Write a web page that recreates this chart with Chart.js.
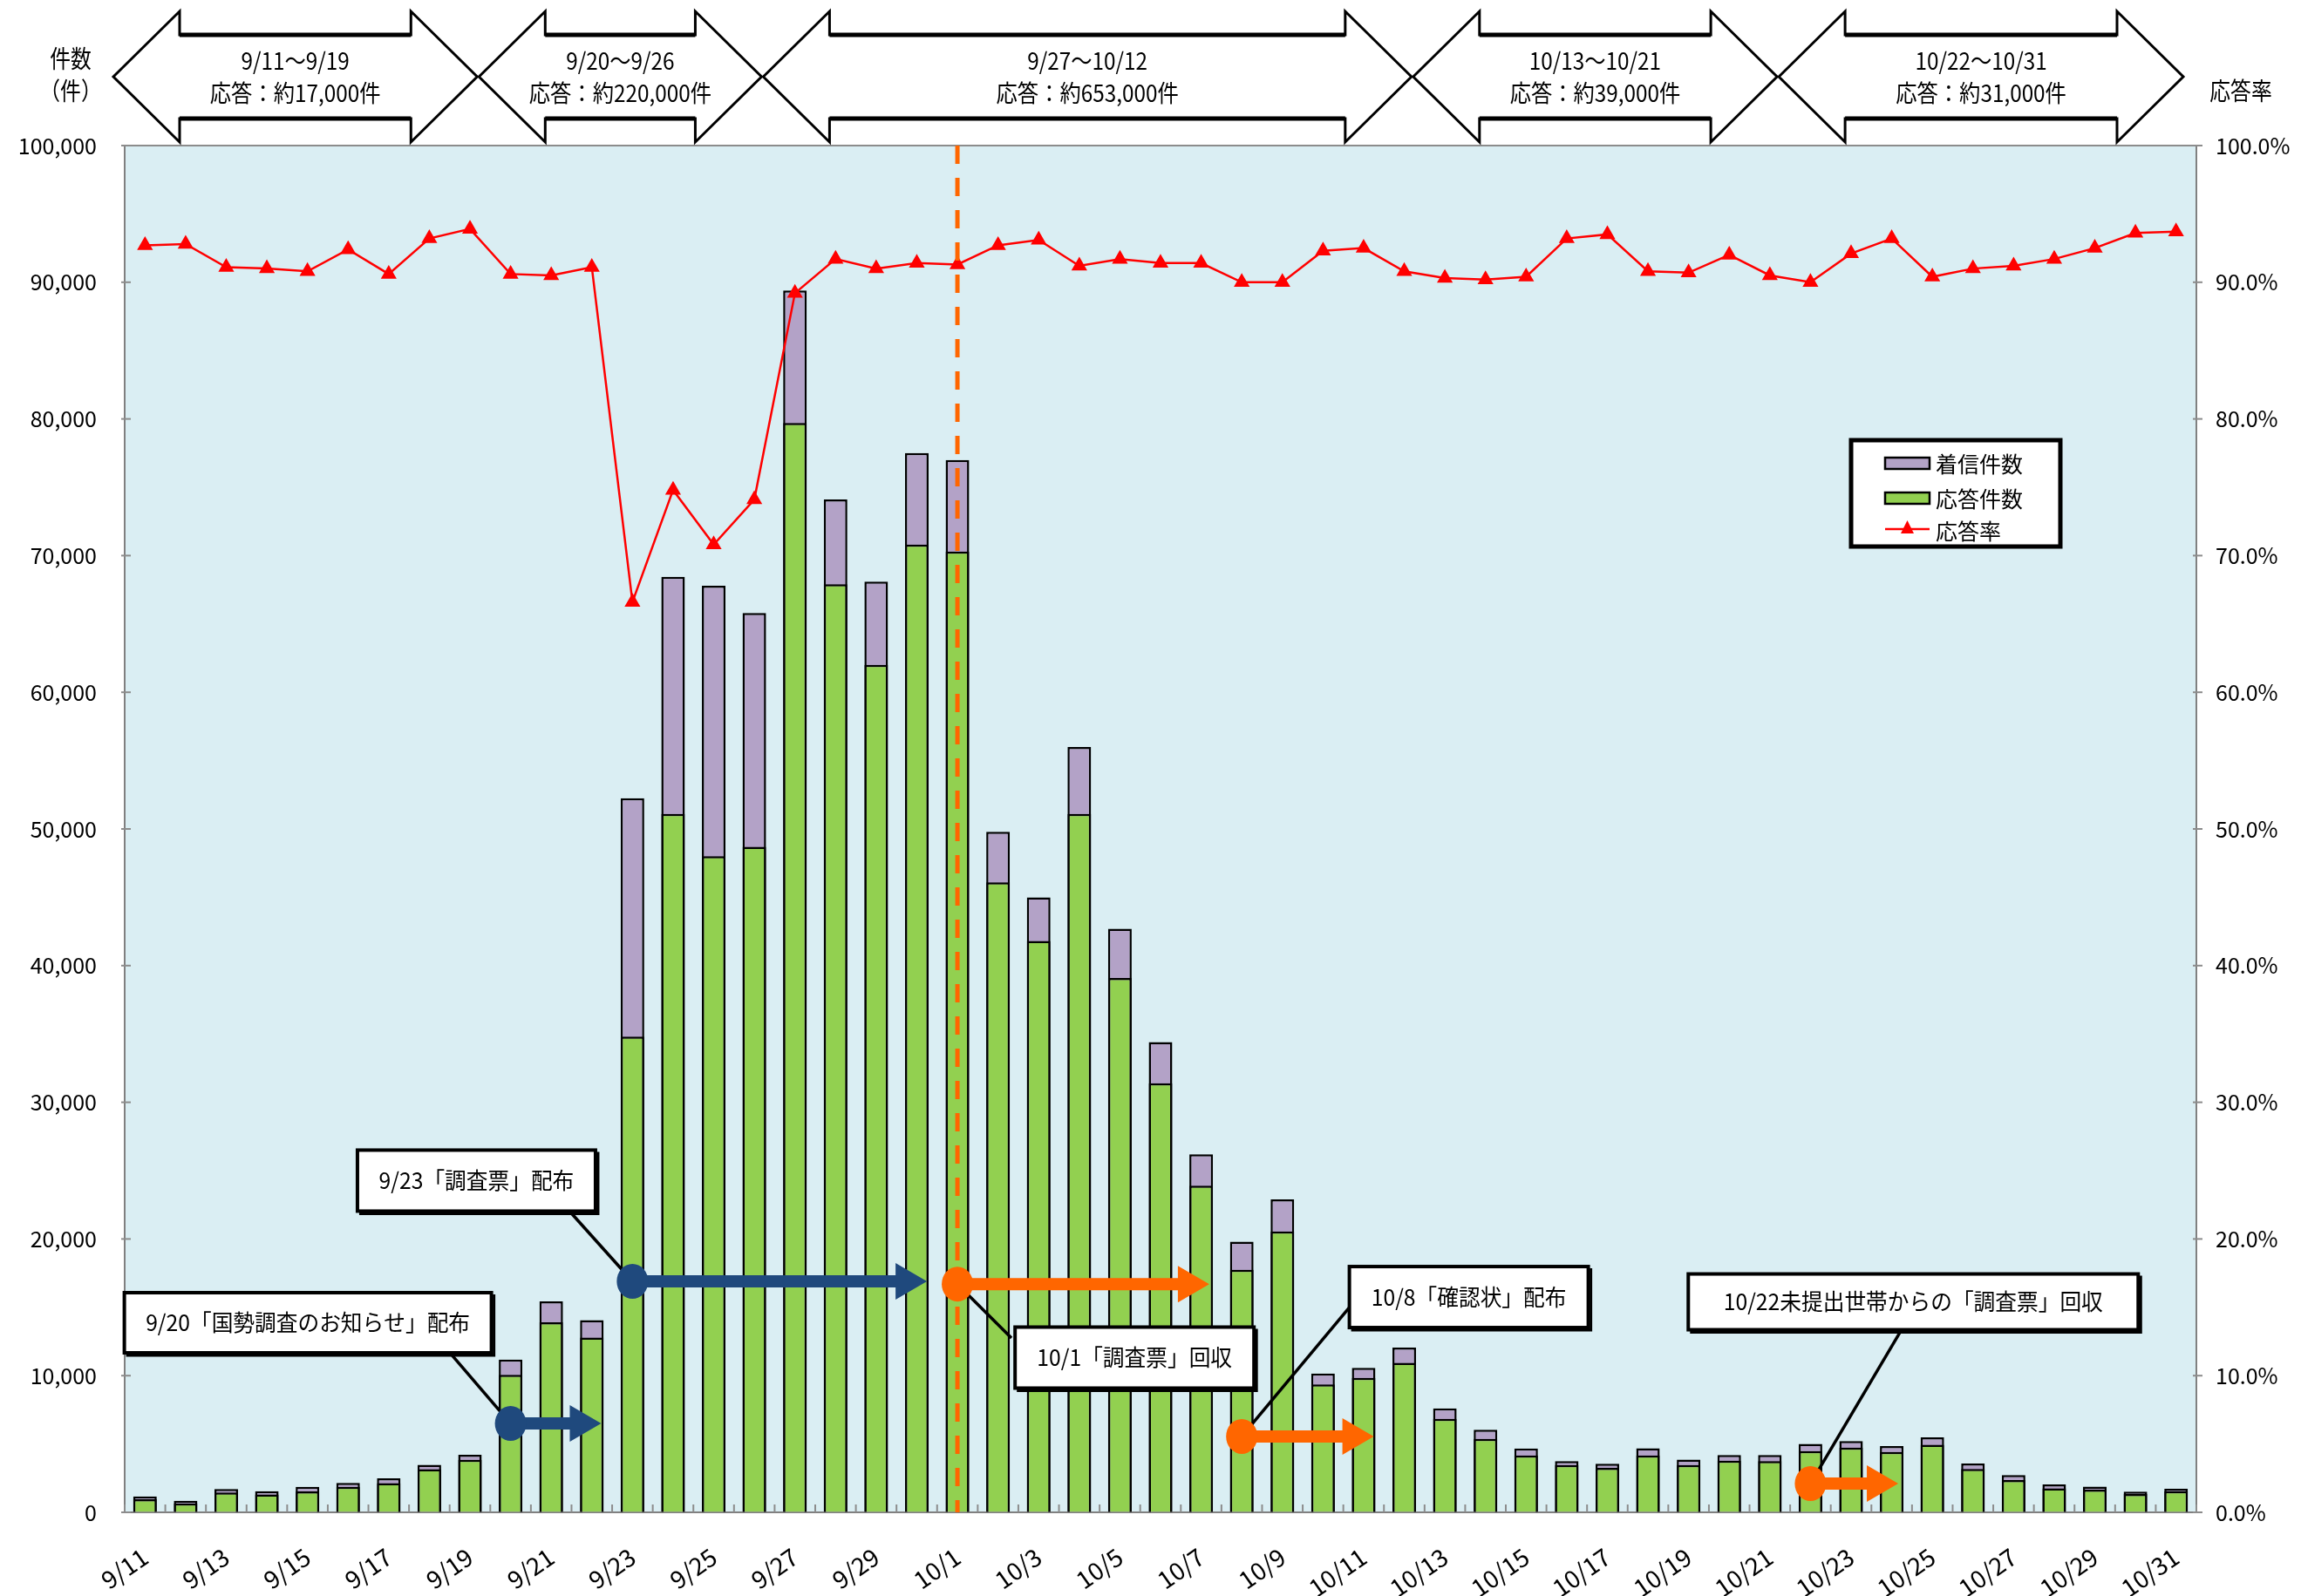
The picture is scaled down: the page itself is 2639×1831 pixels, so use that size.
<!DOCTYPE html>
<html><head><meta charset="utf-8">
<script src="https://cdn.jsdelivr.net/npm/chart.js@4.4.1/dist/chart.umd.min.js"></script>
<style>html,body{margin:0;padding:0;background:#fff;}canvas{display:block;}</style>
</head><body>
<div style="width:2639px;height:1831px;"><canvas id="c" width="2639" height="1831"></canvas></div>
<script>
// ---------- data ----------
const categories = [
 '9/11','9/12','9/13','9/14','9/15','9/16','9/17','9/18','9/19','9/20',
 '9/21','9/22','9/23','9/24','9/25','9/26','9/27','9/28','9/29','9/30',
 '10/1','10/2','10/3','10/4','10/5','10/6','10/7','10/8','10/9','10/10',
 '10/11','10/12','10/13','10/14','10/15','10/16','10/17','10/18','10/19','10/20',
 '10/21','10/22','10/23','10/24','10/25','10/26','10/27','10/28','10/29','10/30','10/31'];
// 着信件数 (incoming calls)
const incomingCalls = [
 1170,850,1700,1550,1870,2150,2490,3470,4210,11170,
 15430,14060,52250,68450,67800,65800,89400,74100,68100,77500,
 77000,49800,45000,56000,42700,34400,26200,19800,22900,10150,
 10570,12060,7600,6050,4670,3750,3550,4690,3860,4200,
 4200,5010,5220,4840,5480,3570,2720,2040,1880,1510,1720];
// 応答件数 (answered calls)
const answeredCalls = [
 960,660,1450,1300,1530,1870,2130,3150,3850,10060,
 13900,12790,34800,51100,48000,48700,79700,67900,62000,70800,
 70300,46100,41800,51100,39100,31400,23900,17750,20550,9360,
 9830,10930,6840,5370,4160,3460,3250,4160,3460,3780,
 3740,4480,4730,4420,4950,3180,2360,1760,1660,1340,1550];
// 応答率 (%)
const responseRate = [
 92.7,92.8,91.1,91.0,90.8,92.4,90.6,93.2,93.9,90.6,
 90.5,91.1,66.6,74.8,70.8,74.1,89.2,91.7,91.0,91.4,
 91.3,92.7,93.1,91.2,91.7,91.4,91.4,90.0,90.0,92.3,
 92.5,90.8,90.3,90.2,90.4,93.2,93.5,90.8,90.7,92.0,
 90.5,90.0,92.1,93.2,90.4,91.0,91.2,91.7,92.5,93.6,93.7];
// x tick labels actually shown
const shownDates = ['9/11','9/13','9/15','9/17','9/19','9/21','9/23','9/25','9/27','9/29',
 '10/1','10/3','10/5','10/7','10/9','10/11','10/13','10/15','10/17','10/19','10/21',
 '10/23','10/25','10/27','10/29','10/31'];
// period banners
const periodFrom = ['9/11','9/20','9/27','10/13','10/22'];
const periodTo   = ['9/19','9/26','10/12','10/21','10/31'];
const periodAnswers = ['応答：約17,000件','応答：約220,000件','応答：約653,000件','応答：約39,000件','応答：約31,000件'];
// event annotations
const eventTexts = ['9/20「国勢調査のお知らせ」配布','9/23「調査票」配布','10/1「調査票」回収','10/8「確認状」配布','10/22未提出世帯からの「調査票」回収'];
const eventDates = ['9/20','9/23','10/1','10/8','10/22'];
const dashedDate = '10/1';

// ---------- layout / style (not data) ----------
const FONT = '"Noto Sans CJK JP","Noto Sans",sans-serif';
const BLUE = '#1F497D', ORANGE = '#FF6600';
const callouts = [
  {box:[4.01,13870], size:[421,69], from:[7.5,11700], arrowAt:6500, tip:11.23, color:BLUE},
  {box:[8.16,24270], size:[273,70], from:[10.46,22000], arrowAt:16900, tip:19.25, color:BLUE},
  {box:[24.36,11320], size:[274,70], from:[21.33,12750], arrowAt:16700, tip:26.2, color:ORANGE},
  {box:[32.59,15750], size:[274,70], from:[29.65,14990], arrowAt:5550, tip:30.25, color:ORANGE},
  {box:[43.53,15400], size:[516,64], from:[43.31,13710], arrowAt:2100, tip:43.16, color:ORANGE}
];

function ix(chart,i){return chart.scales.x.getPixelForValue(i);}
function vy(chart,v){return chart.scales.y.getPixelForValue(v);}
function text(ctx,s,x,y,size,align,cond){
  ctx.font = size+'px '+FONT;
  ctx.textAlign = align||'center';
  ctx.textBaseline = 'middle';
  ctx.fillStyle = '#000';
  const w = ctx.measureText(s).width;
  ctx.fillText(s,x,y,w*(cond||1));
}

const annot = {
  id:'annot',
  beforeDraw(chart){
    const {ctx, chartArea:a} = chart;
    ctx.save();
    ctx.fillStyle = '#DAEEF3';
    ctx.fillRect(a.left,a.top,a.right-a.left,a.bottom-a.top);
    ctx.restore();
  },
  beforeDatasetsDraw(chart){
    const {ctx, chartArea:a} = chart;
    ctx.save();
    ctx.strokeStyle = '#8c8c8c'; ctx.lineWidth = 2;
    for(let i=0;i<=categories.length;i++){
      const x = ix(chart,i-0.5);
      ctx.beginPath(); ctx.moveTo(x,a.bottom); ctx.lineTo(x,a.bottom-9); ctx.stroke();
    }
    chart.scales.y.ticks.forEach(t=>{
      const y = vy(chart,t.value);
      ctx.beginPath(); ctx.moveTo(a.left-4,y); ctx.lineTo(a.left+7,y); ctx.stroke();
      ctx.beginPath(); ctx.moveTo(a.right+7,y); ctx.lineTo(a.right-4,y); ctx.stroke();
    });
    ctx.restore();
  },
  afterDatasetsDraw(chart){
    const {ctx, chartArea:a} = chart;
    ctx.save();
    ctx.strokeStyle = '#8c8c8c'; ctx.lineWidth = 2;
    ctx.beginPath(); ctx.moveTo(a.left,a.top); ctx.lineTo(a.right,a.top); ctx.stroke();
    const dx = ix(chart, categories.indexOf(dashedDate));
    ctx.strokeStyle = ORANGE; ctx.lineWidth = 5; ctx.setLineDash([21,16]);
    ctx.beginPath(); ctx.moveTo(dx,a.top); ctx.lineTo(dx,a.bottom); ctx.stroke();
    ctx.setLineDash([]);
    callouts.forEach((c,k)=>{
      const si = categories.indexOf(eventDates[k]);
      const cx = ix(chart,si), cy = vy(chart,c.arrowAt);
      const fx = ix(chart,c.from[0]), fy = vy(chart,c.from[1]);
      ctx.strokeStyle = '#000'; ctx.lineWidth = 3.5;
      ctx.beginPath(); ctx.moveTo(fx,fy); ctx.lineTo(cx,cy); ctx.stroke();
      const tx = ix(chart,c.tip);
      const hl = 36, hw = 21, sw = 7;
      ctx.fillStyle = c.color;
      ctx.beginPath();
      ctx.moveTo(cx,cy-sw); ctx.lineTo(tx-hl,cy-sw); ctx.lineTo(tx-hl,cy-hw);
      ctx.lineTo(tx,cy); ctx.lineTo(tx-hl,cy+hw); ctx.lineTo(tx-hl,cy+sw); ctx.lineTo(cx,cy+sw);
      ctx.closePath(); ctx.fill();
      ctx.beginPath(); ctx.ellipse(cx,cy,18,20,0,0,Math.PI*2); ctx.fill();
    });
    callouts.forEach((c,k)=>{
      const bx = ix(chart,c.box[0]), by = vy(chart,c.box[1]);
      const [bw,bh] = c.size;
      ctx.fillStyle = '#fff';
      ctx.fillRect(bx-bw/2,by-bh/2,bw,bh);
      ctx.strokeStyle = '#000'; ctx.lineWidth = 4;
      ctx.strokeRect(bx-bw/2,by-bh/2,bw,bh);
      ctx.lineWidth = 3;
      ctx.beginPath(); ctx.moveTo(bx-bw/2+2,by+bh/2+3); ctx.lineTo(bx+bw/2+3,by+bh/2+3); ctx.lineTo(bx+bw/2+3,by-bh/2+2); ctx.stroke();
      text(ctx,eventTexts[k],bx,by,26,'center',0.95);
    });
    ctx.restore();
  },
  afterDraw(chart){
    const {ctx} = chart;
    const w = ix(chart,1)-ix(chart,0);
    ctx.save();
    const yT=13, yBT=40, yM=88, yBB=136, yB=163, head=76;
    periodFrom.forEach((f,k)=>{
      const x0 = ix(chart,categories.indexOf(f)) - w/2 - 13;
      const x1 = ix(chart,categories.indexOf(periodTo[k])) + w/2 - 15;
      ctx.beginPath();
      ctx.moveTo(x0,yM); ctx.lineTo(x0+head,yT); ctx.lineTo(x0+head,yBT); ctx.lineTo(x1-head,yBT);
      ctx.lineTo(x1-head,yT); ctx.lineTo(x1,yM); ctx.lineTo(x1-head,yB); ctx.lineTo(x1-head,yBB);
      ctx.lineTo(x0+head,yBB); ctx.lineTo(x0+head,yB); ctx.closePath();
      ctx.fillStyle='#fff'; ctx.fill();
      ctx.strokeStyle='#000'; ctx.lineWidth=3; ctx.lineJoin='miter'; ctx.stroke();
      ctx.lineWidth=5;
      ctx.beginPath(); ctx.moveTo(x0+head,yBT); ctx.lineTo(x1-head,yBT); ctx.stroke();
      ctx.beginPath(); ctx.moveTo(x0+head,yBB); ctx.lineTo(x1-head,yBB); ctx.stroke();
      const mx = (x0+x1)/2;
      text(ctx,f+'～'+periodTo[k],mx,70,27,'center',0.9);
      text(ctx,periodAnswers[k],mx,107,27,'center',0.9);
    });
    text(ctx,'件数',81,67,28,'center',0.85);
    text(ctx,'（件）',81,104,28,'center',0.85);
    text(ctx,'応答率',2570,104,28,'center',0.85);
    const lx=2123, ly=505, lw=240, lh=122;
    ctx.fillStyle='#fff'; ctx.fillRect(lx,ly,lw,lh);
    ctx.strokeStyle='#000'; ctx.lineWidth=5; ctx.strokeRect(lx,ly,lw,lh);
    const ds = chart.data.datasets;
    const rows = [[ds[2],532],[ds[1],572]];
    rows.forEach(([d,y])=>{
      ctx.fillStyle=d.backgroundColor; ctx.fillRect(2162,y-7,51,13);
      ctx.strokeStyle='#000'; ctx.lineWidth=2.5; ctx.strokeRect(2162,y-7,51,13);
      text(ctx,d.label,2220,y,25,'left');
    });
    ctx.strokeStyle=ds[0].borderColor; ctx.lineWidth=2.5;
    ctx.beginPath(); ctx.moveTo(2162,607); ctx.lineTo(2213,607); ctx.stroke();
    ctx.fillStyle=ds[0].borderColor;
    ctx.beginPath(); ctx.moveTo(2187.5,597); ctx.lineTo(2195,612); ctx.lineTo(2180,612); ctx.closePath(); ctx.fill();
    text(ctx,ds[0].label,2220,609,25,'left');
    ctx.restore();
  }
};

Chart.defaults.font.family = FONT;
Chart.defaults.color = '#000';
new Chart(document.getElementById('c'),{
  type:'bar',
  data:{
    labels:categories,
    datasets:[
      {type:'line',label:'応答率',data:responseRate,yAxisID:'y1',borderColor:'#FF0000',backgroundColor:'#FF0000',
       borderWidth:2.5,pointStyle:'triangle',pointRadius:8,pointHoverRadius:8,tension:0,order:1},
      {type:'bar',label:'応答件数',data:answeredCalls,yAxisID:'y',backgroundColor:'#92D050',borderColor:'#000',
       borderWidth:2.5,grouped:false,barPercentage:0.58,categoryPercentage:1,order:2},
      {type:'bar',label:'着信件数',data:incomingCalls,yAxisID:'y',backgroundColor:'#B3A2C7',borderColor:'#000',
       borderWidth:2.5,grouped:false,barPercentage:0.58,categoryPercentage:1,order:3}
    ]
  },
  options:{
    responsive:false, animation:false, devicePixelRatio:1,
    layout:{padding:{top:167,left:0,right:0,bottom:0}},
    plugins:{legend:{display:false},tooltip:{enabled:false}},
    scales:{
      x:{
        offset:true,
        grid:{display:true,drawOnChartArea:false,drawTicks:false,color:'#808080',offset:true},
        border:{color:'#808080',width:2},
        ticks:{autoSkip:false,minRotation:35,maxRotation:35,padding:34,font:{size:28},color:'#000',
          callback:function(v,i){const l=categories[i];return shownDates.includes(l)?l:'';}},
        afterFit:(s)=>{s.height=96;}
      },
      y:{
        position:'left',min:0,max:100000,
        grid:{drawOnChartArea:false,drawTicks:false,color:'#808080'},
        border:{color:'#808080',width:2},
        ticks:{stepSize:10000,padding:32,font:{size:25},color:'#000',
          callback:(v)=>v.toLocaleString('en-US')},
        afterFit:(s)=>{s.width=143;}
      },
      y1:{
        position:'right',min:0,max:100,
        grid:{drawOnChartArea:false,drawTicks:false,color:'#808080'},
        border:{color:'#808080',width:2},
        ticks:{stepSize:10,padding:22,font:{size:25},color:'#000',
          callback:(v)=>v.toFixed(1)+'%'},
        afterFit:(s)=>{s.width=120;}
      }
    }
  },
  plugins:[annot]
});
</script>
</body></html>
